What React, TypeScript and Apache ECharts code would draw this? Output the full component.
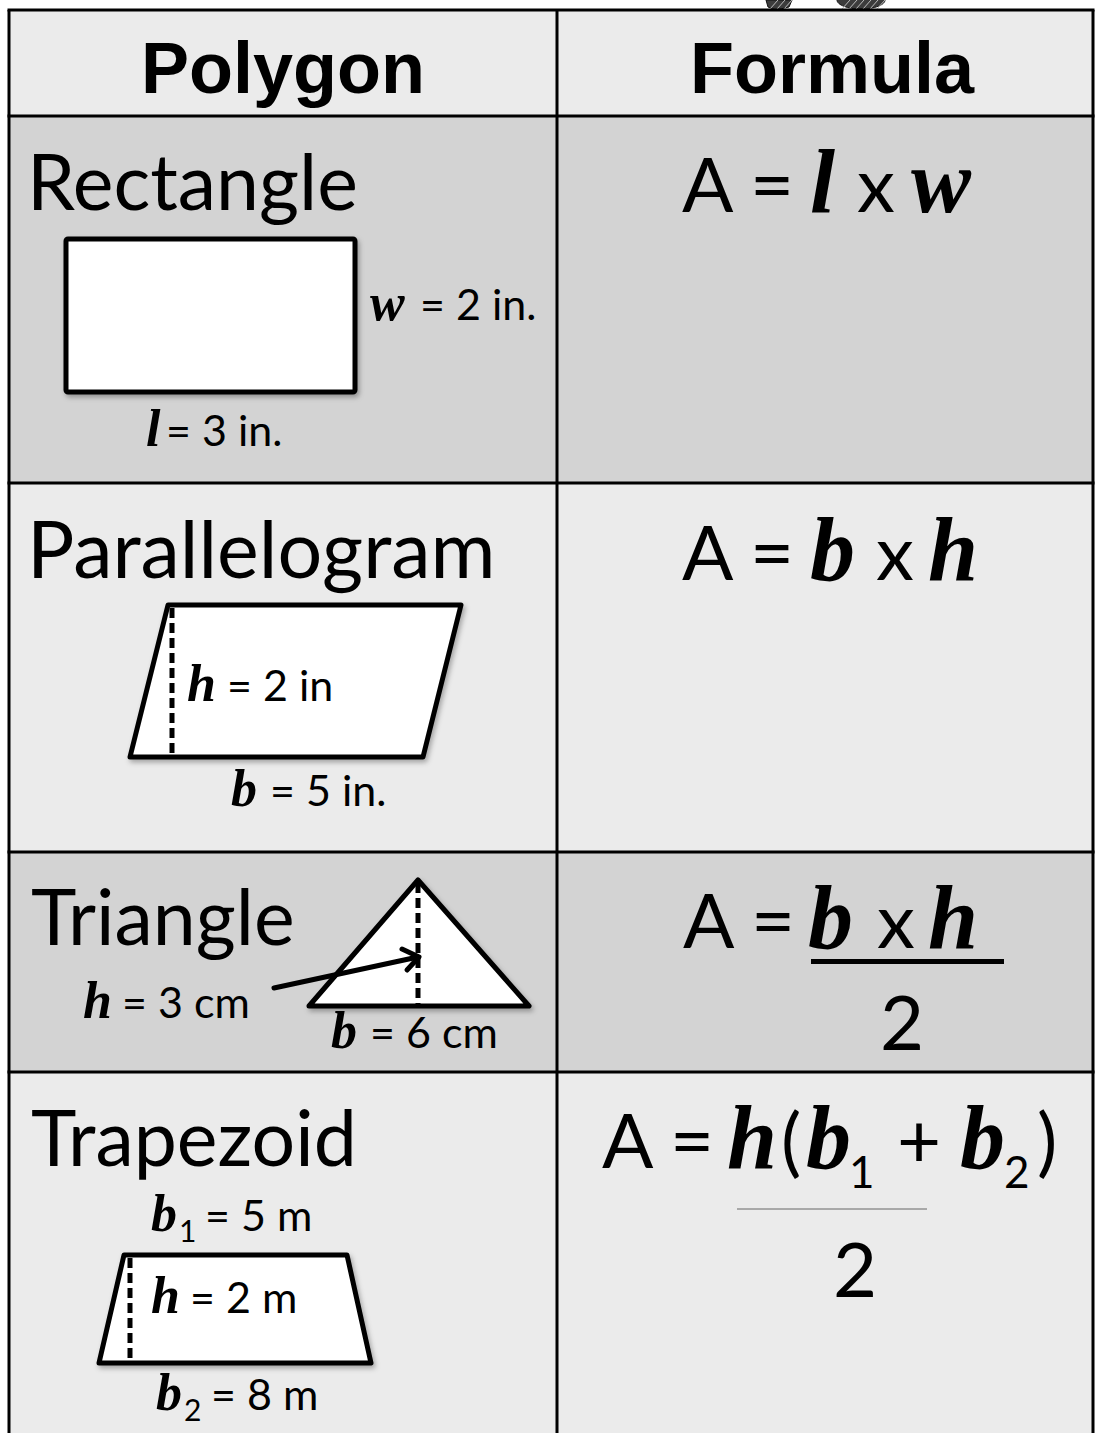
import React, { useEffect, useRef } from "react";
import * as echarts from "echarts";

// ---------- content ----------
const HEADERS = ["Polygon", "Formula"];
const POLYGON_NAMES = ["Rectangle", "Parallelogram", "Triangle", "Trapezoid"];
const HEADER_FILL = "#ebebeb";
const ROW_FILLS = ["#d3d3d3", "#ebebeb", "#d3d3d3", "#ebebeb"];

// dimension labels: math variable, subscript, remainder
const LABEL_VARS = ["w", "l", "h", "b", "h", "b", "b", "h", "b"];
const LABEL_SUBS = ["", "", "", "", "", "", "1", "", "2"];
const LABEL_TEXTS = ["= 2 in.", "= 3 in.", "= 2 in", "= 5 in.", "= 3 cm", "= 6 cm", "= 5 m", "= 2 m", "= 8 m"];

// formulas: s = plain, m = bold italic math letter, u = subscript
const FORMULA_TOKENS = [
  ["A", "=", "l", "x", "w"],
  ["A", "=", "b", "x", "h"],
  ["A", "=", "b", "x", "h"],
  ["A", "=", "h", "(", "b", "1", "+", "b", "2", ")"],
];
const FORMULA_KINDS = [
  ["s", "s", "m", "s", "m"],
  ["s", "s", "m", "s", "m"],
  ["s", "s", "m", "s", "m"],
  ["s", "s", "m", "s", "m", "u", "s", "m", "u", "s"],
];
const FORMULA_DENOMINATORS = ["", "", "2", "2"];

// ---------- layout ----------
const W = 1095;
const H = 1433;
const T_LEFT = 9;
const T_RIGHT = 1093;
const COL_DIV = 557;
const ROW_EDGES = [10, 116, 483, 852, 1072, 1440];
const HEADER_CENTERS = [283, 832];
const HEADER_BASE = 93;
const NAME_POS = [
  [27, 210],
  [27, 578],
  [31, 945],
  [31, 1166],
];
const NAME_SIZES = [77, 79, 77, 77];
// [varX, textX, baseline, subX, subBaseline]
const LABEL_POS = [
  [370, 420, 320, 0, 0],
  [146, 166, 446, 0, 0],
  [187, 227, 701, 0, 0],
  [231, 270, 806, 0, 0],
  [83, 122, 1018, 0, 0],
  [331, 370, 1048, 0, 0],
  [151, 205, 1231, 179, 1242],
  [151, 190, 1313, 0, 0],
  [156, 211, 1410, 184, 1421],
];
const FORMULA_X = [
  [682, 750, 810, 857, 911],
  [682, 750, 810, 876, 928],
  [683, 751, 808, 877, 928],
  [602, 670, 727, 781, 806, 849, 897, 960, 1004, 1037],
];
const FORMULA_BASE = [212, 580, 948, 1168];
const DENOM_POS = [
  [0, 0],
  [0, 0],
  [880, 1050],
  [833, 1297],
];

const SANS = "Lato";
const C_SANS = 0.387;
const C_SERIF = 0.338;
const C_ARIAL = 0.347;

function txt(
  text: string,
  x: number,
  base: number,
  size: number,
  kind: "sans" | "math" | "head",
  align: string = "left"
) {
  let font = `normal ${size}px ${SANS}`;
  let c = C_SANS;
  if (kind === "math") {
    font = `italic bold ${size}px "Liberation Serif"`;
    c = C_SERIF;
  } else if (kind === "head") {
    font = `normal bold ${size}px "Liberation Sans"`;
    c = C_ARIAL;
  }
  return {
    type: "text",
    x,
    y: base - c * size,
    z: 20,
    style: {
      text,
      font,
      fill: "#000",
      align,
      verticalAlign: "middle",
      textAlign: align,
      textVerticalAlign: "middle",
    },
  };
}

const SHADOW = {
  shadowBlur: 5,
  shadowOffsetX: 2,
  shadowOffsetY: 3,
  shadowColor: "rgba(0,0,0,0.3)",
};

function buildElements() {
  const els: any[] = [];
  els.push({ type: "rect", shape: { x: 0, y: 0, width: W, height: H }, style: { fill: "#fff" }, z: 0 });

  // scribble at top (cropped clip-art)
  els.push({
    type: "polygon",
    shape: { points: [[766, 0], [792, 0], [789, 7], [776, 10], [768, 7]] },
    style: { fill: "#3c3c3c", stroke: "#111", lineWidth: 1 },
    z: 1,
  });
  els.push({
    type: "ellipse",
    shape: { cx: 861, cy: 0, rx: 24, ry: 9 },
    style: { fill: "#3c3c3c", stroke: "#111", lineWidth: 1 },
    z: 1,
  });
  for (let i = 0; i < 6; i++) {
    els.push({
      type: "line",
      shape: { x1: 842 + i * 7, y1: 9, x2: 850 + i * 7, y2: 0 },
      style: { stroke: "#bbb", lineWidth: 1 },
      z: 2,
    });
  }
  for (let i = 0; i < 3; i++) {
    els.push({
      type: "line",
      shape: { x1: 770 + i * 7, y1: 9, x2: 778 + i * 7, y2: 0 },
      style: { stroke: "#bbb", lineWidth: 1 },
      z: 2,
    });
  }

  // row backgrounds
  const fills = [HEADER_FILL, ...ROW_FILLS];
  for (let r = 0; r < fills.length; r++) {
    els.push({
      type: "rect",
      shape: { x: T_LEFT, y: ROW_EDGES[r], width: T_RIGHT - T_LEFT, height: ROW_EDGES[r + 1] - ROW_EDGES[r] },
      style: { fill: fills[r] },
      z: 3,
    });
  }
  // grid lines
  const lineStyle = { stroke: "#000", lineWidth: 3 };
  for (let r = 0; r < ROW_EDGES.length - 1; r++) {
    els.push({
      type: "line",
      shape: { x1: T_LEFT - 1.5, y1: ROW_EDGES[r], x2: T_RIGHT + 1.5, y2: ROW_EDGES[r] },
      style: lineStyle,
      z: 5,
    });
  }
  [T_LEFT, COL_DIV, T_RIGHT].forEach((x) => {
    els.push({
      type: "line",
      shape: { x1: x, y1: ROW_EDGES[0], x2: x, y2: H + 5 },
      style: lineStyle,
      z: 5,
    });
  });

  // headers
  HEADERS.forEach((h, i) => els.push(txt(h, HEADER_CENTERS[i], HEADER_BASE, 72, "head", "center")));

  // polygon names
  POLYGON_NAMES.forEach((n, i) => els.push(txt(n, NAME_POS[i][0], NAME_POS[i][1], NAME_SIZES[i], "sans")));

  // shapes
  const shapeStyle = { fill: "#fff", stroke: "#000", lineWidth: 5, lineJoin: "round", ...SHADOW };
  els.push({ type: "rect", shape: { x: 66, y: 239, width: 289, height: 153, r: 2 }, style: shapeStyle, z: 10 });
  els.push({
    type: "polygon",
    shape: { points: [[168, 605], [461, 605], [423, 757], [130, 757]] },
    style: shapeStyle,
    z: 10,
  });
  els.push({
    type: "polygon",
    shape: { points: [[418, 880], [529, 1006], [309, 1006]] },
    style: shapeStyle,
    z: 10,
  });
  els.push({
    type: "polygon",
    shape: { points: [[124, 1255], [347, 1255], [371, 1363], [99, 1363]] },
    style: shapeStyle,
    z: 10,
  });
  // dashed heights
  const dash = { stroke: "#000", lineWidth: 5, lineDash: [10, 5] };
  els.push({ type: "line", shape: { x1: 172, y1: 608, x2: 172, y2: 757 }, style: dash, z: 12 });
  els.push({ type: "line", shape: { x1: 418, y1: 883, x2: 418, y2: 1004 }, style: dash, z: 12 });
  els.push({ type: "line", shape: { x1: 130, y1: 1258, x2: 130, y2: 1361 }, style: dash, z: 12 });
  // arrow
  els.push({
    type: "line",
    shape: { x1: 274, y1: 988, x2: 418, y2: 957 },
    style: { stroke: "#000", lineWidth: 5, lineCap: "round" },
    z: 13,
  });
  els.push({
    type: "polyline",
    shape: { points: [[402, 949], [419, 957], [407, 970]] },
    style: { stroke: "#000", lineWidth: 5, lineCap: "round", lineJoin: "round", fill: null },
    z: 13,
  });

  // dimension labels
  LABEL_VARS.forEach((v, i) => {
    const [vx, tx, base, sx, sb] = LABEL_POS[i];
    els.push(txt(v, vx, base, 52, "math"));
    if (LABEL_SUBS[i]) els.push(txt(LABEL_SUBS[i], sx, sb, 30, "sans"));
    els.push(txt(LABEL_TEXTS[i], tx, base, 43, "sans"));
  });

  // formulas
  FORMULA_TOKENS.forEach((tokens, r) => {
    tokens.forEach((t, k) => {
      const kind = FORMULA_KINDS[r][k];
      const x = FORMULA_X[r][k];
      if (kind === "m") els.push(txt(t, x, FORMULA_BASE[r], 90, "math"));
      else if (kind === "u") els.push(txt(t, x, FORMULA_BASE[r] + 20, 44, "sans"));
      else els.push(txt(t, x, FORMULA_BASE[r], 76, "sans"));
    });
    if (FORMULA_DENOMINATORS[r]) {
      els.push(txt(FORMULA_DENOMINATORS[r], DENOM_POS[r][0], DENOM_POS[r][1], 76, "sans"));
    }
  });
  // fraction bars
  els.push({ type: "rect", shape: { x: 811, y: 959, width: 193, height: 5 }, style: { fill: "#000" }, z: 20 });
  els.push({
    type: "line",
    shape: { x1: 737, y1: 1209, x2: 927, y2: 1209 },
    style: { stroke: "#666", lineWidth: 1 },
    z: 20,
  });
  return els;
}

export default function App() {
  const ref = useRef<HTMLDivElement>(null);
  useEffect(() => {
    document.body.style.margin = "0";
    if (!ref.current) return;
    const chart = echarts.init(ref.current, null, { renderer: "svg" });
    chart.setOption({
      animation: false,
      graphic: { elements: buildElements() },
    });
    return () => chart.dispose();
  }, []);
  return <div ref={ref} style={{ width: W, height: H }} />;
}
